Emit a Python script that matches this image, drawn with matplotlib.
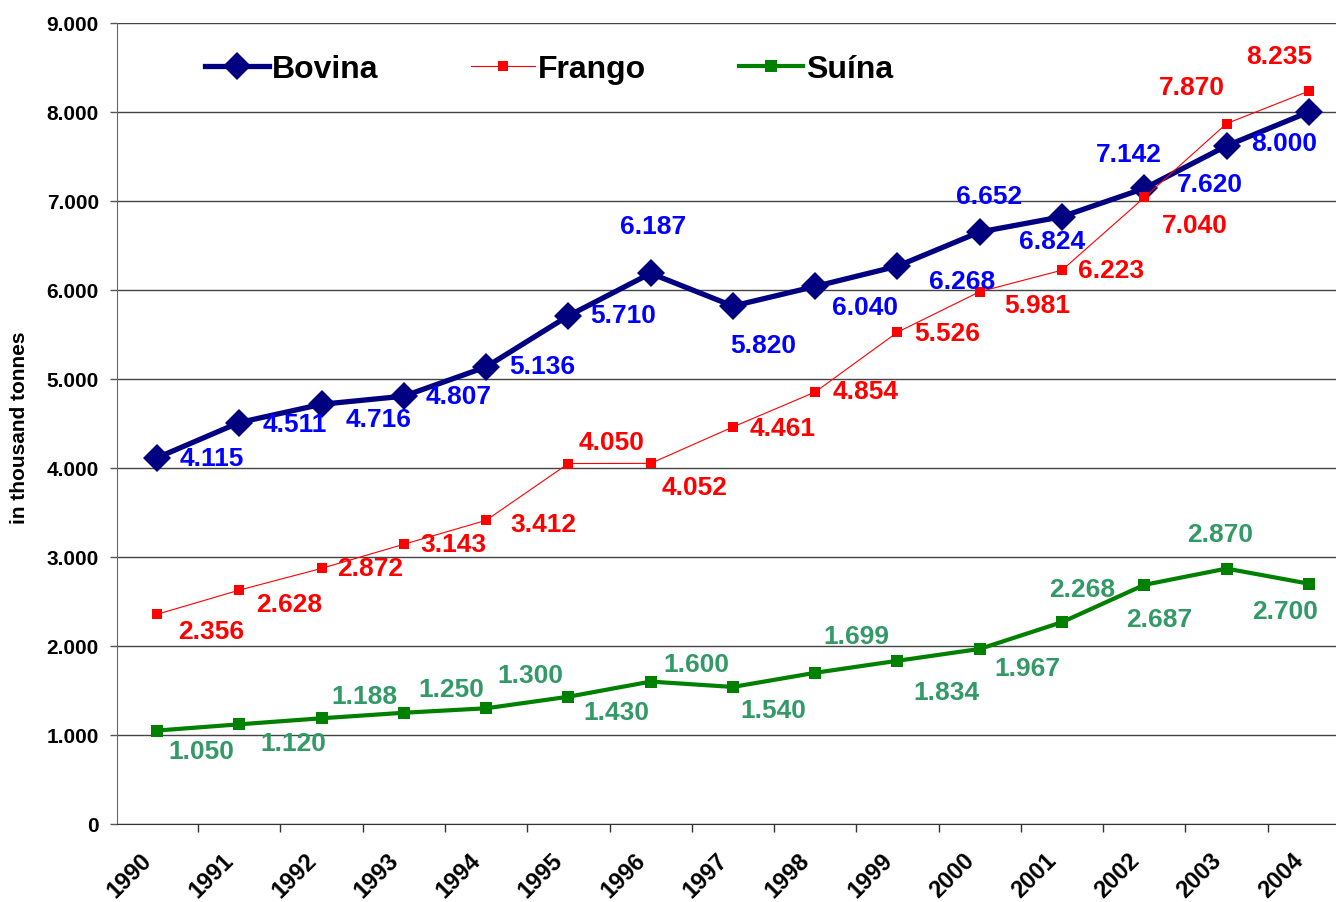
import matplotlib
matplotlib.use("Agg")
import matplotlib.pyplot as plt
from matplotlib.ticker import FuncFormatter, FixedLocator
from matplotlib.transforms import ScaledTranslation

plt.rcParams['font.family'] = ['Liberation Sans', 'DejaVu Sans']
plt.rcParams['font.weight'] = 'bold'

years = ['1990', '1991', '1992', '1993', '1994', '1995', '1996', '1997',
         '1998', '1999', '2000', '2001', '2002', '2003', '2004']
bovina = [4115, 4511, 4716, 4807, 5136, 5710, 6187, 5820, 6040, 6268,
          6652, 6824, 7142, 7620, 8000]
frango = [2356, 2628, 2872, 3143, 3412, 4050, 4052, 4461, 4854, 5526,
          5981, 6223, 7040, 7870, 8235]
suina = [1050, 1120, 1188, 1250, 1300, 1430, 1600, 1540, 1699, 1834,
         1967, 2268, 2687, 2870, 2700]

# label offsets in pixels (dx, dy up)
off_bov = [(55, 0), (56, -1), (57, -15), (55, 0), (56, 1), (55, 1), (2, 47),
           (30, -39), (50, -21), (65, -15), (9, 36), (-10, -24), (-15, 34),
           (-17, -38), (-25, -31)]
off_fra = [(54, -17), (50, -14), (49, 0), (50, 0), (57, -4), (43, 22),
           (44, -24), (50, -1), (50, 1), (50, -1), (57, -13), (49, 0),
           (51, -28), (-35, 37), (-30, 35)]
off_sui = [(44, -20), (54, -19), (43, 22), (47, 24), (44, 33), (48, -15),
           (46, 18), (40, -23), (41, 37), (49, -31), (48, -19), (20, 33),
           (15, -34), (-6, 35), (-24, -27)]

W, H = 1336, 903
fig = plt.figure(figsize=(W / 100, H / 100), dpi=100)
ax = fig.add_axes([117 / W, (H - 825) / H, (W - 117) / W, (825 - 24) / H])

x = list(range(len(years)))
ax.plot(x, bovina, color='#000080', lw=3.8, marker='D', ms=14,
        markeredgewidth=0, label='Bovina', zorder=4)
ax.plot(x, frango, color='#ff0000', lw=0.8, marker='s', ms=7.5,
        markeredgewidth=0, label='Frango', zorder=5)
ax.plot(x, suina, color='#008000', lw=3, marker='s', ms=8,
        markeredgewidth=0, label='Suína', zorder=4)

def thousands(v, pos=None):
    return f"{int(v):,}".replace(',', '.')

for vals, offs, col in [(bovina, off_bov, '#0000ff'),
                        (frango, off_fra, '#ff0000'),
                        (suina, off_sui, '#339966')]:
    for i, (v, o) in enumerate(zip(vals, offs)):
        ax.annotate(thousands(v), (i, v), xytext=o, textcoords='offset pixels',
                    ha='center', va='center', fontsize=19, fontweight='bold',
                    color=col, zorder=6)

ax.set_xlim(-0.486, 14.33)
ax.set_ylim(0, 9000)
ax.set_yticks(range(0, 9001, 1000))
ax.yaxis.set_major_formatter(FuncFormatter(thousands))
ax.tick_params(axis='y', labelsize=15, length=5, width=1, color='#555555', pad=8)

ax.set_xticks(x)
ax.tick_params(axis='x', which='major', length=0, pad=20)
ax.xaxis.set_minor_locator(FixedLocator([i - 0.5 for i in range(16)]))
ax.tick_params(axis='x', which='minor', length=6, width=1, color='#333333')
ax.set_xticklabels(years, rotation=45, ha='right', rotation_mode='anchor',
                   fontsize=17, fontweight='bold')
shift = ScaledTranslation(-17 / 100, 4 / 100, fig.dpi_scale_trans)
for lbl in ax.get_xticklabels():
    lbl.set_transform(lbl.get_transform() + shift)

ax.grid(axis='y', color='#444444', lw=1)
ax.set_axisbelow(True)
for s in ['top', 'right']:
    ax.spines[s].set_visible(False)
ax.spines['left'].set_color('#666666')
ax.spines['bottom'].set_color('#333333')

fig.text(20 / W, 1 - 428 / H, 'in thousand tonnes', rotation=90,
         ha='center', va='center', fontsize=15, fontweight='bold')

fig.legend(loc='center left', bbox_to_anchor=(205 / W, 1 - 70 / H), ncol=3,
           frameon=False, handlelength=2.0, handletextpad=0.1,
           columnspacing=2.9, borderpad=0, borderaxespad=0,
           prop={'weight': 'bold', 'size': 23})

fig.savefig('out.png', dpi=100)
